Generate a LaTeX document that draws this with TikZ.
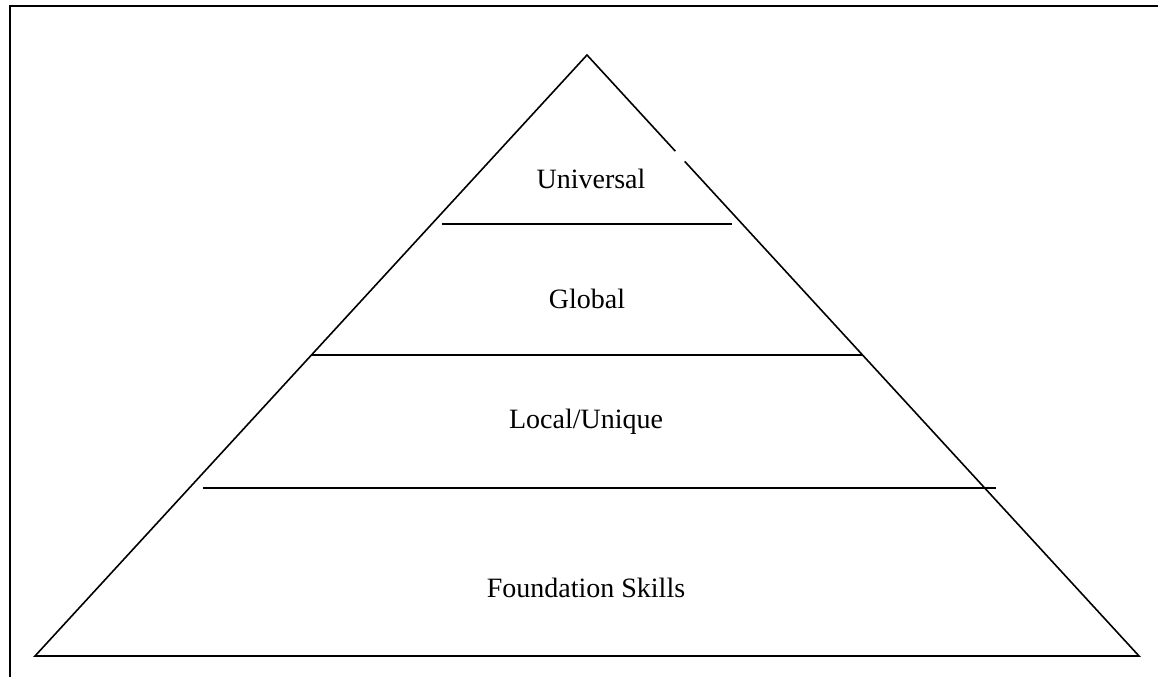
\documentclass[tikz,border=0pt]{standalone}
\usepackage{fontspec}
\setmainfont{Liberation Serif}
\usetikzlibrary{calc}
\begin{document}
\begin{tikzpicture}[x=1pt,y=-1pt,
  edge/.style={line width=1.6pt,black},
  tier/.style={line width=2pt,black},
  frame/.style={line width=2.2pt,black},
  label/.style={anchor=base,inner sep=0pt,font=\fontsize{28}{34}\selectfont}]
  \useasboundingbox (0,0) rectangle (1158,677);
  % outer frame (left and top sides)
  \draw[frame] (10,677) -- (10,6) -- (1158,6);
  % pyramid corners
  \coordinate (apex) at (587,55);
  \coordinate (bl) at (35,656);
  \coordinate (br) at (1139,656);
  \draw[edge,line join=miter] ($(apex)!0.160!(br)$) -- (apex) -- (bl) -- (br) -- ($(apex)!0.177!(br)$);
  % tier separators
  \draw[tier] (442,224) -- (732,224);
  \draw[tier] (311,355) -- (862,355);
  \draw[tier] (203,488) -- (996,488);
  % tier labels
  \node[label] (universal) at (591,188) {Universal};
  \node[label] (global) at (587,308) {Global};
  \node[label] (local) at (586,428) {Local/Unique};
  \node[label] (foundation) at (586,597) {Foundation Skills};
\end{tikzpicture}
\end{document}
